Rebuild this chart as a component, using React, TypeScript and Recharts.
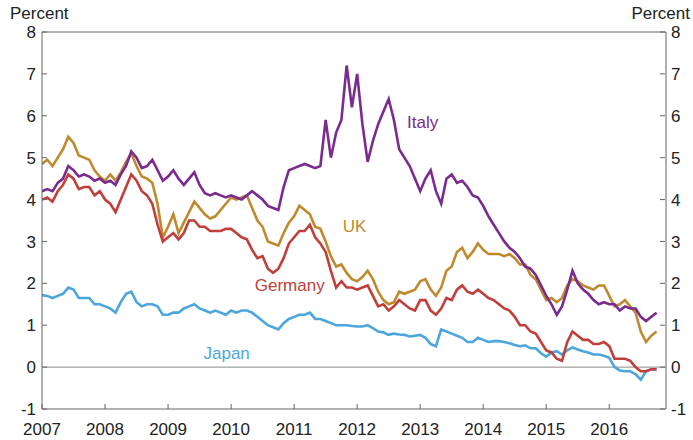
import React from 'react';
import { LineChart, Line, XAxis, YAxis, ReferenceLine, ReferenceDot } from 'recharts';

// monthly 10-year yields, Jan 2007 .. Oct 2016
const italy = [
  4.2, 4.25, 4.2, 4.4, 4.5, 4.8, 4.7, 4.55, 4.6, 4.55, 4.45, 4.5,
  4.4, 4.45, 4.35, 4.6, 4.8, 5.15, 5.0, 4.75, 4.8, 4.95, 4.7, 4.45,
  4.55, 4.7, 4.5, 4.35, 4.5, 4.65, 4.35, 4.15, 4.1, 4.15, 4.1, 4.05,
  4.1, 4.05, 4.0, 4.1, 4.2, 4.1, 4.0, 3.85, 3.8, 3.75, 4.3, 4.7,
  4.75, 4.8, 4.85, 4.8, 4.75, 4.8, 5.9, 5.0, 5.6, 5.9, 7.2, 6.2,
  7.0, 5.8, 4.9, 5.4, 5.8, 6.1, 6.4, 5.9, 5.2, 5.0, 4.8, 4.5,
  4.2, 4.5, 4.7, 4.2, 3.9, 4.5, 4.6, 4.4, 4.45, 4.3, 4.1, 4.05,
  3.85, 3.6, 3.4, 3.2, 3.0, 2.85, 2.75, 2.6, 2.4, 2.35, 2.2, 1.95,
  1.7, 1.5, 1.25, 1.45, 1.85, 2.3, 2.0, 1.85, 1.75, 1.6, 1.5, 1.55,
  1.5, 1.5, 1.35, 1.45, 1.4, 1.4, 1.2, 1.1, 1.2, 1.3,
];

const uk = [
  4.85, 4.95, 4.8, 5.0, 5.2, 5.5, 5.35, 5.05, 5.0, 4.95, 4.7, 4.55,
  4.45, 4.6, 4.45, 4.65, 4.9, 5.1, 4.8, 4.55, 4.5, 4.4, 3.9, 3.1,
  3.35, 3.65, 3.2, 3.45, 3.7, 3.95, 3.8, 3.65, 3.55, 3.6, 3.75, 3.9,
  4.05, 4.0, 4.05, 4.1, 3.8, 3.5, 3.35, 3.0, 2.95, 2.9, 3.2, 3.45,
  3.6, 3.85, 3.75, 3.65, 3.35, 3.3, 3.0, 2.65, 2.4, 2.45, 2.25, 2.1,
  2.05, 2.15, 2.3, 2.1, 1.8, 1.6, 1.5, 1.55, 1.8, 1.75, 1.8, 1.85,
  2.05, 2.1, 1.85, 1.7, 1.9, 2.3, 2.4, 2.75, 2.85, 2.6, 2.75, 2.95,
  2.8, 2.7, 2.7, 2.7, 2.65, 2.7, 2.6, 2.45, 2.45, 2.2, 2.1, 1.85,
  1.6, 1.65, 1.55, 1.65, 1.95, 2.1, 2.05, 1.95, 1.9, 1.85, 1.95, 1.95,
  1.7, 1.45, 1.5, 1.6, 1.45, 1.3, 0.85, 0.6, 0.75, 0.85,
];

const germany = [
  4.0, 4.05, 3.95, 4.2, 4.35, 4.6, 4.5, 4.25, 4.3, 4.3, 4.1, 4.2,
  4.0, 3.9, 3.7, 4.0, 4.3, 4.6, 4.45, 4.2, 4.1, 3.9, 3.4, 3.0,
  3.1, 3.2, 3.05, 3.2, 3.5, 3.5, 3.35, 3.35, 3.25, 3.25, 3.25, 3.3,
  3.3, 3.2, 3.1, 3.05, 2.8, 2.6, 2.65, 2.35, 2.25, 2.35, 2.6, 2.95,
  3.1, 3.25, 3.25, 3.4, 3.1, 2.95, 2.75, 2.3, 1.9, 2.05, 1.9, 1.9,
  1.85, 1.9, 1.95, 1.7, 1.45, 1.5, 1.35, 1.45, 1.6, 1.5, 1.4, 1.35,
  1.6, 1.6, 1.35, 1.25, 1.4, 1.65, 1.6, 1.85, 1.95, 1.8, 1.75, 1.85,
  1.75, 1.65, 1.6, 1.5, 1.4, 1.35, 1.2, 1.0, 1.0, 0.85, 0.8, 0.6,
  0.4, 0.35, 0.2, 0.15, 0.6, 0.85, 0.75, 0.65, 0.65, 0.55, 0.55, 0.6,
  0.5, 0.2, 0.2, 0.2, 0.15, 0.0, -0.1, -0.1, -0.05, -0.05,
];

const japan = [
  1.72, 1.7, 1.65, 1.7, 1.75, 1.9, 1.85, 1.65, 1.65, 1.65, 1.5, 1.5,
  1.45, 1.4, 1.3, 1.55, 1.75, 1.8, 1.55, 1.45, 1.5, 1.5, 1.45, 1.25,
  1.25, 1.3, 1.3, 1.4, 1.45, 1.5, 1.4, 1.35, 1.3, 1.35, 1.3, 1.25,
  1.35, 1.3, 1.35, 1.35, 1.3, 1.2, 1.1, 1.0, 0.95, 0.9, 1.05, 1.15,
  1.2, 1.25, 1.25, 1.3, 1.15, 1.15, 1.1, 1.05, 1.0, 1.0, 1.0, 0.98,
  0.97, 0.97, 1.0, 0.93, 0.85, 0.83, 0.77, 0.8, 0.78, 0.77, 0.73, 0.75,
  0.77, 0.7, 0.55, 0.5, 0.9, 0.85, 0.8, 0.75, 0.7, 0.6, 0.6, 0.7,
  0.65, 0.6, 0.62, 0.62, 0.6, 0.57, 0.53, 0.5, 0.52, 0.45, 0.45, 0.33,
  0.25, 0.35, 0.38, 0.3, 0.4, 0.47, 0.42, 0.38, 0.35, 0.3, 0.3, 0.27,
  0.22, 0.0, -0.08, -0.1, -0.1, -0.17, -0.3, -0.1, -0.05, -0.06,
];

const yearTicks = [2007, 2008, 2009, 2010, 2011, 2012, 2013, 2014, 2015, 2016];
const percentTicks = [-1, 0, 1, 2, 3, 4, 5, 6, 7, 8];

const data = italy.map((v, i) => ({
  t: 2007 + i / 12,
  italy: v,
  uk: uk[i],
  germany: germany[i],
  japan: japan[i],
}));

const COLORS = {
  italy: '#7b2b8f',
  uk: '#bf8a2e',
  germany: '#c13f3b',
  japan: '#4ba6de',
};

const FONT = 'Liberation Sans, Arial, sans-serif';
const AXIS = '#666';

const LeftTick = ({ x, y, payload }: any) => (
  <g>
    <line x1={x + 6} x2={x + 11} y1={y} y2={y} stroke={AXIS} />
    <text x={x} y={y} dy="0.36em" textAnchor="end" fontSize={17} fill="#222" fontFamily={FONT}>
      {payload.value}
    </text>
  </g>
);

const RightTick = ({ x, y, payload }: any) => (
  <g>
    <line x1={x - 6} x2={x - 11} y1={y} y2={y} stroke={AXIS} />
    <text x={x} y={y} dy="0.36em" textAnchor="start" fontSize={17} fill="#222" fontFamily={FONT}>
      {payload.value}
    </text>
  </g>
);

const BottomTick = ({ x, y, payload }: any) => (
  <g>
    <line x1={x} x2={x} y1={y - 4} y2={y - 9} stroke={AXIS} />
    <text x={x} y={y + 22} textAnchor="middle" fontSize={17} fill="#222" fontFamily={FONT}>
      {payload.value}
    </text>
  </g>
);

const seriesLabel = (text: string, color: string) => (props: any) => (
  <text x={props.cx} y={props.cy} dy="0.36em" textAnchor="middle" fontSize={17} fill={color} fontFamily={FONT}>
    {text}
  </text>
);

export default function App() {
  return (
    <div style={{ position: 'absolute', left: 0, top: 0, width: 693, height: 440, background: '#fff' }}>
      <div style={{ position: 'absolute', left: 10, top: 4, fontSize: 17, fontFamily: FONT, color: '#222' }}>Percent</div>
      <div style={{ position: 'absolute', right: 3, top: 4, fontSize: 17, fontFamily: FONT, color: '#222' }}>Percent</div>
      <LineChart width={693} height={440} data={data} margin={{ top: 32, right: 0, bottom: 0, left: 0 }}>
        <XAxis
          dataKey="t"
          type="number"
          domain={[2007, 2016.9]}
          ticks={yearTicks}
          allowDataOverflow
          height={31}
          tickSize={0}
          tickMargin={4}
          tickLine={false}
          stroke={AXIS}
          tick={<BottomTick />}
        />
        <YAxis
          yAxisId="left"
          orientation="left"
          domain={[-1, 8]}
          ticks={percentTicks}
          allowDataOverflow
          width={42}
          tickSize={0}
          tickMargin={6}
          tickLine={false}
          stroke={AXIS}
          tick={<LeftTick />}
        />
        <YAxis
          yAxisId="right"
          orientation="right"
          domain={[-1, 8]}
          ticks={percentTicks}
          allowDataOverflow
          width={27}
          tickSize={0}
          tickMargin={5}
          tickLine={false}
          stroke={AXIS}
          tick={<RightTick />}
        />
        <ReferenceLine yAxisId="left" y={8} stroke={AXIS} />
        <ReferenceLine yAxisId="left" y={0} stroke="#888" />
        <Line yAxisId="right" dataKey="japan" stroke={COLORS.japan} strokeWidth={2.6} dot={false} isAnimationActive={false} />
        <Line yAxisId="left" dataKey="uk" stroke={COLORS.uk} strokeWidth={2.6} dot={false} isAnimationActive={false} />
        <Line yAxisId="left" dataKey="germany" stroke={COLORS.germany} strokeWidth={2.6} dot={false} isAnimationActive={false} />
        <Line yAxisId="left" dataKey="italy" stroke={COLORS.italy} strokeWidth={2.6} dot={false} isAnimationActive={false} />
        <ReferenceDot yAxisId="left" x={2013.04} y={5.85} r={0} shape={seriesLabel('Italy', COLORS.italy)} />
        <ReferenceDot yAxisId="left" x={2011.96} y={3.37} r={0} shape={seriesLabel('UK', COLORS.uk)} />
        <ReferenceDot yAxisId="left" x={2010.93} y={1.96} r={0} shape={seriesLabel('Germany', COLORS.germany)} />
        <ReferenceDot yAxisId="left" x={2009.93} y={0.33} r={0} shape={seriesLabel('Japan', COLORS.japan)} />
      </LineChart>
    </div>
  );
}
